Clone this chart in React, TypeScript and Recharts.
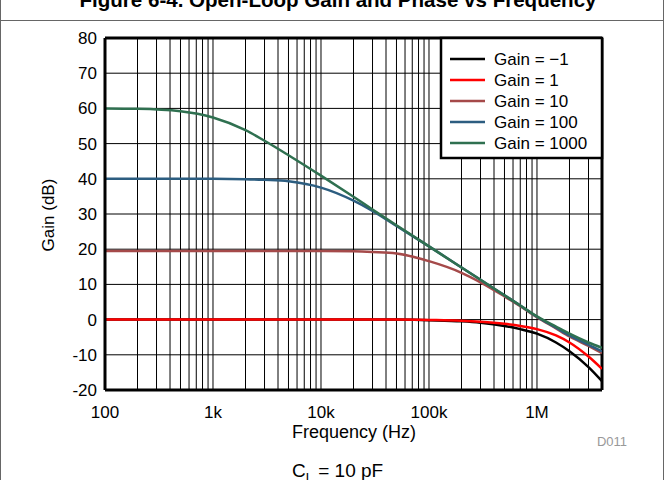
import React from "react";
import { LineChart, Line, XAxis, YAxis, CartesianGrid, ReferenceLine } from "recharts";

// frequency points (Hz)
const freqs = [100, 200, 500, 1e3, 2e3, 3e3, 5e3, 1e4, 2e4, 3e4, 5e4, 1e5, 2e5, 3e5, 5e5, 7e5, 1e6, 1.5e6, 2e6, 3e6, 4e6];

const gainNeg1 = [0, 0, 0, 0, 0, 0, 0, 0, 0, 0, 0, -0.2, -0.5, -0.9, -1.8, -2.7, -4, -6.5, -9, -13.5, -17.5];
const gain1 = [0, 0, 0, 0, 0, 0, 0, 0, 0, 0, 0, -0.1, -0.3, -0.6, -1.2, -1.8, -2.7, -4.5, -6.5, -10.5, -14];
const gain10 = [19.5, 19.5, 19.5, 19.5, 19.5, 19.5, 19.5, 19.5, 19.4, 19.2, 18.8, 16.6, 13.3, 10.6, 6.6, 3.8, 0.7, -2.5, -4.8, -7.5, -9.5];
const gain100 = [40, 40, 40, 40, 39.9, 39.7, 39.3, 37.5, 33.8, 30.9, 26.6, 20.8, 14.8, 11.3, 6.9, 4, 0.8, -2.3, -4.5, -7.2, -9];
const gain1000 = [60, 59.9, 59.2, 57.4, 53.8, 50.8, 46.7, 40.9, 34.9, 31.3, 26.8, 20.8, 14.8, 11.3, 6.9, 4, 0.9, -2, -4, -6.5, -8];

const decadeLabels: Record<number, string> = { 100: "100", 1000: "1k", 10000: "10k", 100000: "100k", 1000000: "1M" };
const yTicks = [-20, -10, 0, 10, 20, 30, 40, 50, 60, 70, 80];

const series = [
  { key: "gNeg1", name: "Gain = \u22121", color: "#000000", values: gainNeg1 },
  { key: "g1", name: "Gain = 1", color: "#ff0000", values: gain1 },
  { key: "g10", name: "Gain = 10", color: "#a54a4a", values: gain10 },
  { key: "g100", name: "Gain = 100", color: "#2c5d80", values: gain100 },
  { key: "g1000", name: "Gain = 1000", color: "#2f7050", values: gain1000 },
];

// grid ticks at 1..9 of each decade
const xTicks: number[] = [];
for (let d = 100; d <= 1e6; d *= 10) {
  for (let m = 1; m <= 9; m++) {
    const v = d * m;
    if (v <= 4e6) xTicks.push(v);
  }
}

const data = freqs.map((f, i) => {
  const row: Record<string, number> = { f };
  series.forEach((s) => (row[s.key] = s.values[i]));
  return row;
});

const font = "'Liberation Sans', Arial, sans-serif";

export default function App() {
  return (
    <div style={{ position: "absolute", left: 0, top: 0, width: 664, height: 480, background: "#fff", fontFamily: font }}>
      <LineChart width={664} height={480} data={data} margin={{ top: 38, right: 62, bottom: 0, left: 0 }}>
        <CartesianGrid stroke="#000" strokeWidth={1} />
        <XAxis
          dataKey="f"
          type="number"
          scale="log"
          domain={[100, 4e6]}
          ticks={xTicks}
          interval={0}
          allowDataOverflow
          height={90}
          tickLine={false}
          tickSize={6}
          tickMargin={10}
          axisLine={{ stroke: "#000", strokeWidth: 3 }}
          tick={{ fontSize: 17, fill: "#000", fontFamily: font }}
          tickFormatter={(v: number) => decadeLabels[v] ?? ""}
        />
        <YAxis
          type="number"
          domain={[-20, 80]}
          ticks={yTicks}
          interval={0}
          width={105}
          tickLine={false}
          axisLine={{ stroke: "#000", strokeWidth: 3 }}
          tick={{ fontSize: 17, fill: "#000", fontFamily: font }}
        />
        <ReferenceLine y={80} stroke="#000" strokeWidth={3} />
        <ReferenceLine x={4e6} stroke="#000" strokeWidth={3} />
        {series.map((s) => (
          <Line
            key={s.key}
            type="monotone"
            dataKey={s.key}
            stroke={s.color}
            strokeWidth={2.5}
            dot={false}
            isAnimationActive={false}
          />
        ))}
      </LineChart>

      <svg width={664} height={480} style={{ position: "absolute", left: 0, top: 0, pointerEvents: "none" }}>
        {/* figure frame */}
        <line x1={0.5} y1={0} x2={0.5} y2={480} stroke="#666" strokeWidth={1} />
        <line x1={663.5} y1={0} x2={663.5} y2={480} stroke="#666" strokeWidth={1} />
        <line x1={0} y1={20.5} x2={664} y2={20.5} stroke="#666" strokeWidth={1} />
        <text
          x={338}
          y={7}
          textAnchor="middle"
          fontSize={20}
          fontWeight="bold"
          fontFamily={font}
          fill="#000"
          textLength={517}
          lengthAdjust="spacingAndGlyphs"
        >
          Figure 6-4. Open-Loop Gain and Phase vs Frequency
        </text>

        {/* legend */}
        <rect x={441} y={38} width={161} height={120} fill="#fff" stroke="#000" strokeWidth={2.5} />
        {series.map((s, i) => (
          <g key={s.key}>
            <line x1={450} x2={485} y1={59 + i * 21} y2={59 + i * 21} stroke={s.color} strokeWidth={2.5} />
            <text x={494} y={65 + i * 21} fontSize={17} fontFamily={font} fill="#000">
              {s.name}
            </text>
          </g>
        ))}

        <text x={48} y={215} transform="rotate(-90 48 215)" textAnchor="middle" dominantBaseline="central" fontSize={17} fontFamily={font}>
          Gain (dB)
        </text>
        <text x={354} y={438} textAnchor="middle" fontSize={18} fontFamily={font}>
          Frequency (Hz)
        </text>
        <text x={612} y={446} textAnchor="middle" fontSize={13} fontFamily={font} fill="#999">
          D011
        </text>
        <text x={292} y={477} fontSize={19} fontFamily={font}>
          C
          <tspan fontSize={13} dy={5}>L</tspan>
          <tspan dy={-5}> = 10 pF</tspan>
        </text>
      </svg>
    </div>
  );
}
